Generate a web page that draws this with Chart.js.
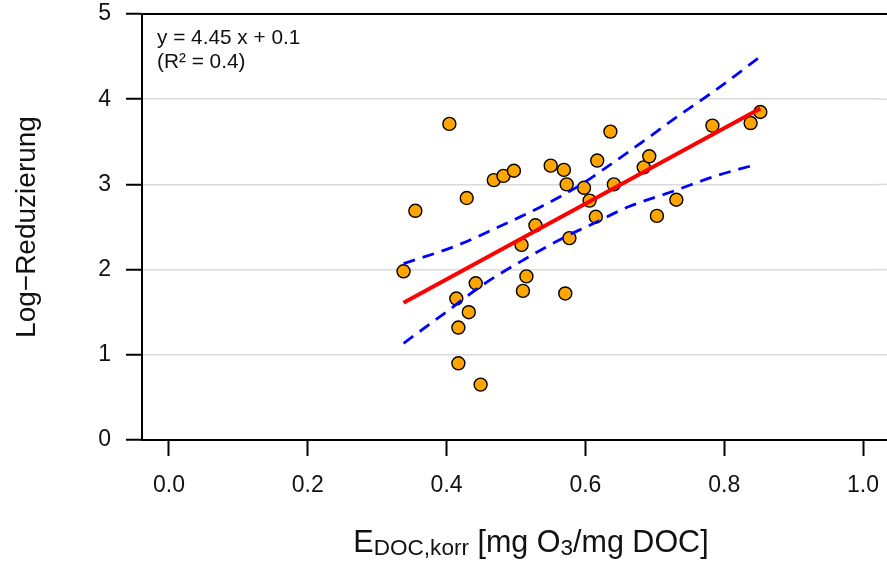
<!DOCTYPE html>
<html>
<head>
<meta charset="utf-8">
<script src="https://cdn.jsdelivr.net/npm/chart.js@4.4.0/dist/chart.umd.min.js"></script>
<style>
  html, body { margin: 0; padding: 0; background: #fff; }
  #wrap { position: relative; width: 887px; height: 562px; overflow: hidden; font-family: "Liberation Sans", Arial, sans-serif; color: #111; }
  #c { position: absolute; left: 0; top: 0; }
  #xt { position: absolute; left: 281px; width: 500px; top: 526px; text-align: center; font-size: 30.5px; line-height: 30px; white-space: nowrap; }
  #xt .s { font-size: 0.74em; vertical-align: -0.14em; }
  #ann { position: absolute; left: 157px; top: 25px; font-size: 20.8px; line-height: 24px; white-space: nowrap; }
</style>
</head>
<body>
<div id="wrap">
  <canvas id="c" width="887" height="562"></canvas>
  <div id="xt">E<span class="s">DOC,korr</span> [mg O<span class="s">3</span>/mg DOC]</div>
  <div id="ann">y = 4.45 x + 0.1<br>(R² = 0.4)</div>
</div>
<script>
// ---- data ----
const edocX = [0.338, 0.355, 0.404, 0.429, 0.414, 0.417, 0.432, 0.442, 0.417, 0.449,
               0.468, 0.482, 0.497, 0.508, 0.510, 0.515, 0.528, 0.550, 0.569, 0.573,
               0.577, 0.571, 0.598, 0.606, 0.617, 0.615, 0.636, 0.641, 0.684, 0.692,
               0.703, 0.731, 0.783, 0.838, 0.852];
const logRed = [1.98, 2.69, 3.71, 2.84, 1.66, 1.32, 1.50, 1.84, 0.90, 0.65,
                3.05, 3.10, 3.16, 2.29, 1.75, 1.92, 2.52, 3.22, 3.17, 3.00,
                2.37, 1.72, 2.96, 2.81, 3.28, 2.62, 3.62, 3.00, 3.20, 3.33,
                2.63, 2.82, 3.69, 3.72, 3.85];

const fitX = [0.338, 0.852];
const fitY = [1.61, 3.89];

const upperX = [0.338, 0.414, 0.472, 0.534, 0.590, 0.625, 0.679, 0.735, 0.788, 0.852];
const upperY = [2.07, 2.28, 2.49, 2.73, 2.98, 3.17, 3.48, 3.81, 4.11, 4.50];
const lowerX = [0.338, 0.397, 0.452, 0.510, 0.577, 0.601, 0.663, 0.730, 0.788, 0.840];
const lowerY = [1.135, 1.487, 1.82, 2.11, 2.41, 2.50, 2.74, 2.93, 3.10, 3.22];

const xTicks = [0.0, 0.2, 0.4, 0.6, 0.8, 1.0];
const xTickLabels = ["0.0", "0.2", "0.4", "0.6", "0.8", "1.0"];
const yTicks = [0, 1, 2, 3, 4, 5];
const yTickLabels = ["0", "1", "2", "3", "4", "5"];

const yTitle = "Log\u2212Reduzierung";

// ---- build ----
const pts = (xs, ys) => xs.map((x, i) => ({ x: x, y: ys[i] }));

// frame continues past the canvas edge in the reference (plot box is cropped on the right)
const frameLines = {
  id: 'frameLines',
  beforeDatasetsDraw(chart) {
    const { ctx, chartArea, scales } = chart;
    ctx.save();
    ctx.strokeStyle = '#dadada';
    ctx.lineWidth = 1.5;
    yTicks.slice(1, -1).forEach(v => {
      const py = scales.y.getPixelForValue(v);
      ctx.beginPath();
      ctx.moveTo(chartArea.right - 1, py);
      ctx.lineTo(chart.width + 2, py);
      ctx.stroke();
    });
    ctx.restore();
  },
  afterDraw(chart) {
    const { ctx, chartArea } = chart;
    ctx.save();
    ctx.strokeStyle = '#000';
    ctx.lineWidth = 2;
    ctx.beginPath();
    ctx.moveTo(chartArea.left - 1, chartArea.top);
    ctx.lineTo(chart.width + 2, chartArea.top);
    ctx.stroke();
    ctx.beginPath();
    ctx.moveTo(chartArea.right - 2, chartArea.bottom);
    ctx.lineTo(chart.width + 2, chartArea.bottom);
    ctx.stroke();
    ctx.restore();
  }
};

new Chart(document.getElementById('c'), {
  type: 'scatter',
  data: {
    datasets: [
      {
        type: 'line',
        data: pts(upperX, upperY),
        borderColor: '#0000ff',
        borderWidth: 2.8,
        borderDash: [12, 8],
        pointRadius: 0,
        cubicInterpolationMode: 'monotone',
        fill: false,
        order: 1
      },
      {
        type: 'line',
        data: pts(lowerX, lowerY),
        borderColor: '#0000ff',
        borderWidth: 2.8,
        borderDash: [12, 8],
        pointRadius: 0,
        cubicInterpolationMode: 'monotone',
        fill: false,
        order: 1
      },
      {
        type: 'line',
        data: pts(fitX, fitY),
        borderColor: '#ff0000',
        borderWidth: 4,
        pointRadius: 0,
        fill: false,
        order: 0
      },
      {
        type: 'scatter',
        data: pts(edocX, logRed),
        backgroundColor: '#ffa500',
        borderColor: '#000',
        borderWidth: 1.4,
        pointRadius: 6.5,
        order: 3
      }
    ]
  },
  options: {
    responsive: false,
    animation: false,
    devicePixelRatio: 1,
    layout: { padding: { top: 14, left: 0, right: 0, bottom: 0 } },
    plugins: { legend: { display: false }, tooltip: { enabled: false } },
    scales: {
      x: {
        type: 'linear',
        min: -0.0388,
        max: 1.0231,
        afterBuildTicks: (s) => { s.ticks = xTicks.map(v => ({ value: v })); },
        afterFit: (s) => { s.height = 122; s.paddingLeft = 0; s.paddingRight = 0; },
        grid: { drawOnChartArea: false, drawTicks: true, tickLength: 16, tickColor: '#000', tickWidth: 2 },
        border: { display: true, color: '#000', width: 2 },
        ticks: {
          color: '#111',
          padding: 16,
          maxRotation: 0,
          font: { family: '"Liberation Sans", Arial, sans-serif', size: 23 },
          callback: (v, i) => xTickLabels[i]
        }
      },
      y: {
        type: 'linear',
        min: 0,
        max: 5,
        afterBuildTicks: (s) => { s.ticks = yTicks.map(v => ({ value: v })); },
        afterFit: (s) => { s.width = 142; s.paddingTop = 0; s.paddingBottom = 0; },
        grid: { color: '#dadada', lineWidth: 1.5, drawTicks: true, tickLength: 16, tickColor: '#000', tickWidth: 2 },
        border: { display: true, color: '#000', width: 2 },
        ticks: {
          color: '#111',
          padding: 15,
          font: { family: '"Liberation Sans", Arial, sans-serif', size: 23 },
          callback: (v, i) => yTickLabels[i]
        },
        title: {
          display: true,
          text: yTitle,
          color: '#111',
          padding: { top: 10, bottom: 0 },
          font: { family: '"Liberation Sans", Arial, sans-serif', size: 28 }
        }
      }
    }
  },
  plugins: [frameLines]
});
</script>
</body>
</html>
